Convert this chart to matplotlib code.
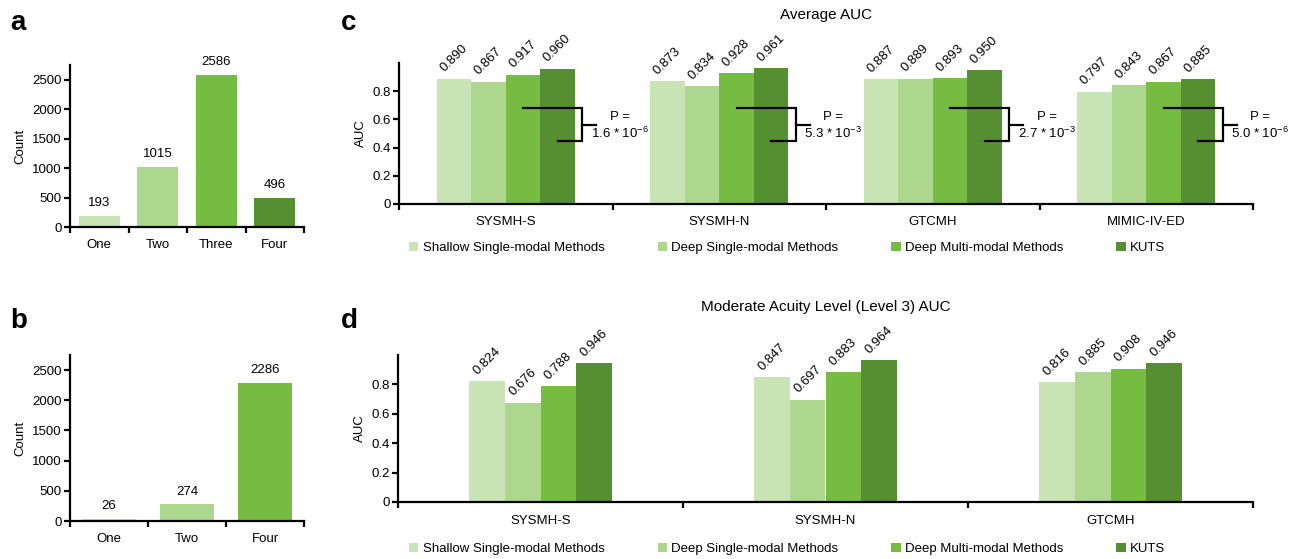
import numpy as np
import matplotlib
matplotlib.use("Agg")
import matplotlib.pyplot as plt
from matplotlib.patches import Patch

plt.rcParams['font.family'] = ['Liberation Sans', 'DejaVu Sans']
plt.rcParams['font.size'] = 9.5
plt.rcParams['mathtext.fontset'] = 'custom'
plt.rcParams['mathtext.rm'] = 'Liberation Sans'

# ---- data ----
a_labels = ["One", "Two", "Three", "Four"]
a_counts = [193, 1015, 2586, 496]
b_labels = ["One", "Two", "Four"]
b_counts = [26, 274, 2286]

methods = ["Shallow Single-modal Methods", "Deep Single-modal Methods",
           "Deep Multi-modal Methods", "KUTS"]
colors = ["#C9E4B4", "#ADD78E", "#76BB42", "#568E32"]

c_datasets = ["SYSMH-S", "SYSMH-N", "GTCMH", "MIMIC-IV-ED"]
c_auc = [
    [0.890, 0.873, 0.887, 0.797],   # shallow single-modal
    [0.867, 0.834, 0.889, 0.843],   # deep single-modal
    [0.917, 0.928, 0.893, 0.867],   # deep multi-modal
    [0.960, 0.961, 0.950, 0.885],   # KUTS
]
p_mant = ["1.6", "5.3", "2.7", "5.0"]
p_exp = [-6, -3, -3, -6]

d_datasets = ["SYSMH-S", "SYSMH-N", "GTCMH"]
d_auc = [
    [0.824, 0.847, 0.816],
    [0.676, 0.697, 0.885],
    [0.788, 0.883, 0.908],
    [0.946, 0.964, 0.946],
]

count_ticks = [0, 500, 1000, 1500, 2000, 2500]
auc_ticks = [0, 0.2, 0.4, 0.6, 0.8]
auc_ticklabels = ["0", "0.2", "0.4", "0.6", "0.8"]

W, H = 1299, 559
fig = plt.figure(figsize=(W / 100, H / 100), dpi=100)


def px_axes(left, top, right, bottom):
    return fig.add_axes([left / W, 1 - bottom / H, (right - left) / W, (bottom - top) / H])


def style(ax, n):
    for s in ["top", "right"]:
        ax.spines[s].set_visible(False)
    for s in ["left", "bottom"]:
        ax.spines[s].set_linewidth(1.6)
    ax.set_xlim(-0.5, n - 0.5)
    ax.set_xticks(range(n))
    ax.tick_params(axis="x", which="major", length=0, pad=9)
    ax.set_xticks(np.arange(n + 1) - 0.5, minor=True)
    ax.tick_params(axis="x", which="minor", length=4, width=1.6)
    ax.tick_params(axis="y", length=4, width=1.6, pad=2)


def count_panel(ax, labels, counts):
    n = len(labels)
    style(ax, n)
    ax.bar(range(n), counts, width=0.7, color=colors[:n])
    for i, v in enumerate(counts):
        ax.annotate(str(v), (i, v), xytext=(0, 5), textcoords="offset points",
                    ha="center", va="bottom")
    ax.set_xticklabels(labels)
    ax.set_ylim(0, 2750)
    ax.set_yticks(count_ticks)
    ax.set_ylabel("Count")


def auc_panel(ax, datasets, auc, w):
    n = len(datasets)
    style(ax, n)
    x = np.arange(n)
    for k in range(4):
        xs = x + (k - 1.5) * w
        ax.bar(xs, auc[k], width=w, color=colors[k])
        for xi, v in zip(xs, auc[k]):
            ax.annotate("%.3f" % v, (xi, v), xytext=(0, 3), textcoords="offset points",
                        ha="center", va="bottom", rotation=45)
    ax.set_xticklabels(datasets)
    ax.set_ylim(0, 1.0)
    ax.set_yticks(auc_ticks)
    ax.set_yticklabels(auc_ticklabels)
    ax.set_ylabel("AUC")


ax_a = px_axes(70, 65, 304, 227)
count_panel(ax_a, a_labels, a_counts)
ax_b = px_axes(70, 355, 304, 521)
count_panel(ax_b, b_labels, b_counts)

ax_c = px_axes(399, 63, 1253, 204)
wc = 0.1616
auc_panel(ax_c, c_datasets, c_auc, wc)
ax_c.set_title("Average AUC", fontsize=11, pad=32)
# significance brackets
for i in range(len(c_datasets)):
    x3 = i + 0.5 * wc
    x4 = i + 1.5 * wc
    xv = i + 2 * wc + 0.035
    ax_c.plot([x3, xv, xv, x4], [0.68, 0.68, 0.447, 0.447], color="black", lw=1.6,
              solid_joinstyle="miter", clip_on=False)
    ax_c.plot([xv, xv + 0.065], [0.563, 0.563], color="black", lw=1.6, clip_on=False)
    ax_c.text(i + 0.535, 0.62, "P =", ha="center", va="center")
    ax_c.text(i + 0.535, 0.50, r"%s * 10$\mathregular{^{%d}}$" % (p_mant[i], p_exp[i]),
              ha="center", va="center")

ax_d = px_axes(398, 355, 1253, 502)
auc_panel(ax_d, d_datasets, d_auc, 0.1256)
ax_d.set_title("Moderate Acuity Level (Level 3) AUC", fontsize=11, pad=32)

handles = [Patch(facecolor=c, edgecolor="none") for c in colors]
for ypx in [248, 549]:
    fig.legend(handles, methods, loc="center left", bbox_to_anchor=(409 / W, 1 - ypx / H),
               ncol=4, frameon=False, borderpad=0, borderaxespad=0, handlelength=0.7,
               handleheight=0.7, handletextpad=0.35, columnspacing=4.0)

for letter, xp, yp in [("a", 10, 30), ("b", 10, 328), ("c", 341, 30), ("d", 341, 328)]:
    fig.text(xp / W, 1 - yp / H, letter, fontsize=20, fontweight="bold", va="baseline")

fig.savefig("out.png", dpi=100)
